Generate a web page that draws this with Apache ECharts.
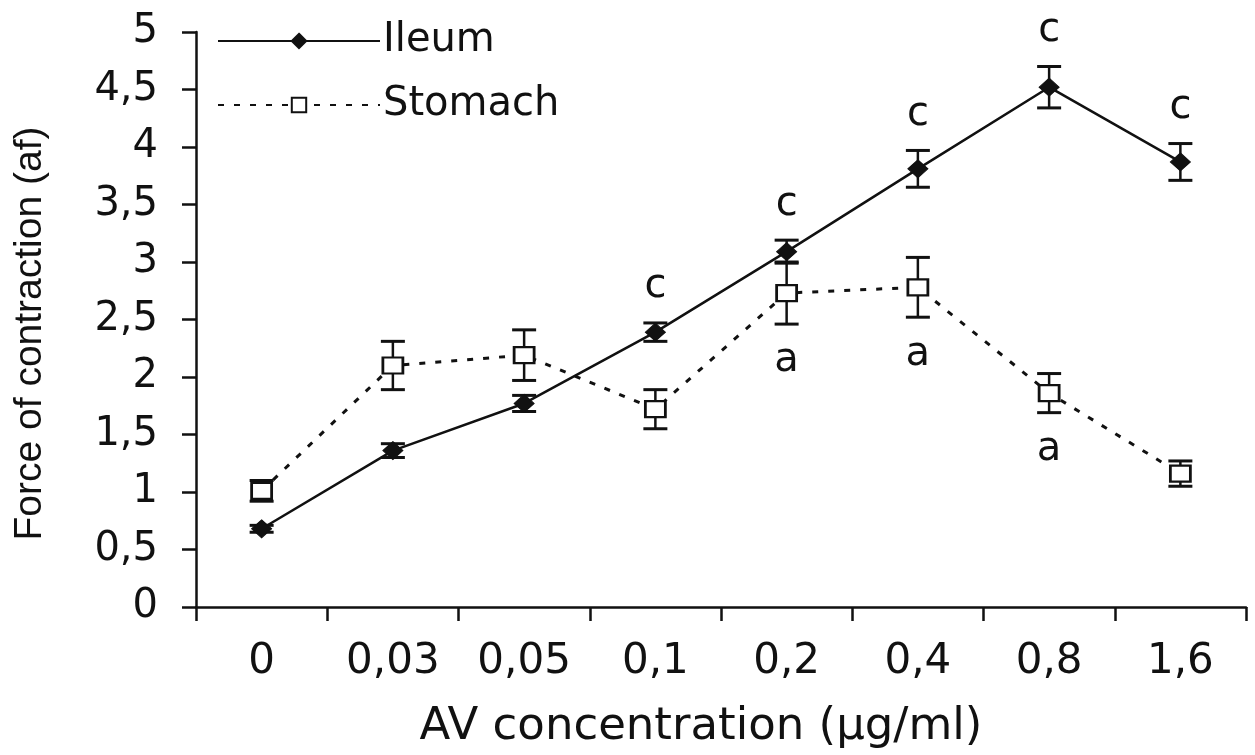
<!DOCTYPE html>
<html>
<head>
<meta charset="utf-8">
<script src="https://cdn.jsdelivr.net/npm/echarts@6/dist/echarts.min.js"></script>
<style>html,body{margin:0;padding:0;background:#fff}#c{width:1255px;height:755px}</style>
</head>
<body>
<div id="c"></div>
<script>
var categories = ['0', '0,03', '0,05', '0,1', '0,2', '0,4', '0,8', '1,6'];
var ileum = [0.68, 1.36, 1.77, 2.39, 3.09, 3.81, 4.52, 3.87];
var ileumErr = [0.03, 0.06, 0.07, 0.08, 0.10, 0.16, 0.18, 0.16];
var stomach = [1.01, 2.10, 2.19, 1.72, 2.73, 2.78, 1.86, 1.16];
var stomachErr = [0.09, 0.21, 0.22, 0.17, 0.27, 0.26, 0.17, 0.11];
var ileumSig = ['', '', '', 'c', 'c', 'c', 'c', 'c'];
var stomachSig = ['', '', '', '', 'a', 'a', 'a', ''];

var INK = '#111';
var FONT = 'DejaVu Sans';

function errData(vals, errs) {
  return vals.map(function (v, i) { return [i, v - errs[i], v + errs[i]]; });
}
function errRender(params, api) {
  var i = api.value(0);
  var lo = api.coord([i, api.value(1)]);
  var hi = api.coord([i, api.value(2)]);
  var hw = 12;
  return {
    type: 'group',
    children: [
      { type: 'line', shape: { x1: hi[0], y1: hi[1], x2: lo[0], y2: lo[1] }, style: { stroke: INK, lineWidth: 2.5 } },
      { type: 'line', shape: { x1: hi[0] - hw, y1: hi[1], x2: hi[0] + hw, y2: hi[1] }, style: { stroke: INK, lineWidth: 3 } },
      { type: 'line', shape: { x1: lo[0] - hw, y1: lo[1], x2: lo[0] + hw, y2: lo[1] }, style: { stroke: INK, lineWidth: 3 } }
    ]
  };
}
function sigData(vals, errs, sig, up) {
  var out = [];
  vals.forEach(function (v, i) {
    if (sig[i]) out.push({ value: [i, up ? v + errs[i] : v - errs[i]], name: sig[i] });
  });
  return out;
}

var chart = echarts.init(document.getElementById('c'), null, { renderer: 'canvas' });
chart.setOption({
  backgroundColor: '#fff',
  animation: false,
  grid: { left: 196, right: 9, top: 32, bottom: 148, containLabel: false },
  legend: {
    left: 212, top: 16, orient: 'vertical', itemWidth: 162, itemHeight: 18, itemGap: 24,
    textStyle: { fontFamily: FONT, fontSize: 40, color: INK, padding: [0, 0, 0, -2] },
    data: ['Ileum', 'Stomach']
  },
  xAxis: {
    type: 'category', data: categories, boundaryGap: true,
    name: 'AV concentration (\u00b5g/ml)', nameLocation: 'middle', nameGap: 98,
    nameTextStyle: { fontFamily: FONT, fontSize: 45, color: INK, padding: [0, 40, 0, 0] },
    axisLine: { lineStyle: { color: INK, width: 2.5 } },
    axisTick: { show: true, length: 14, lineStyle: { color: INK, width: 2.5 } },
    axisLabel: { fontFamily: FONT, fontSize: 42, color: INK, margin: 34 },
    splitLine: { show: false }
  },
  yAxis: {
    type: 'value', min: 0, max: 5, interval: 0.5,
    name: 'Force of contraction (af)', nameLocation: 'middle', nameGap: 146,
    nameTextStyle: { fontFamily: 'Liberation Sans', fontSize: 39, color: INK, padding: [0, 28, 0, 0] },
    axisLine: { show: true, lineStyle: { color: INK, width: 2.5 } },
    axisTick: { show: true, length: 14, lineStyle: { color: INK, width: 2.5 } },
    axisLabel: {
      fontFamily: FONT, fontSize: 40, color: INK, margin: 38,
      formatter: function (v) { return String(v).replace('.', ','); }
    },
    splitLine: { show: false }
  },
  series: [
    {
      name: 'Ileum', type: 'line', data: ileum, z: 3,
      symbol: 'diamond', symbolSize: [20, 18], showAllSymbol: true,
      itemStyle: { color: INK, borderColor: INK, borderWidth: 1 },
      lineStyle: { color: INK, width: 2.5, type: 'solid' }
    },
    {
      name: 'Stomach', type: 'line', data: stomach, z: 3,
      symbol: 'rect', symbolSize: [20, 16], showAllSymbol: true,
      itemStyle: { color: '#fff', borderColor: INK, borderWidth: 2.5 },
      lineStyle: { color: INK, width: 3, type: [6, 10] }
    },
    {
      type: 'custom', name: 'ileumErr', data: errData(ileum, ileumErr), z: 2,
      renderItem: errRender, encode: { x: 0, y: [1, 2] }, silent: true
    },
    {
      type: 'custom', name: 'stomachErr', data: errData(stomach, stomachErr), z: 2,
      renderItem: errRender, encode: { x: 0, y: [1, 2] }, silent: true
    },
    {
      type: 'scatter', data: sigData(ileum, ileumErr, ileumSig, true), symbolSize: 0, z: 4, silent: true,
      itemStyle: { opacity: 1 },
      label: { show: true, position: 'top', distance: 16, formatter: '{b}', fontFamily: FONT, fontSize: 40, color: INK, opacity: 1 }
    },
    {
      type: 'scatter', data: sigData(stomach, stomachErr, stomachSig, false), symbolSize: 0, z: 4, silent: true,
      itemStyle: { opacity: 1 },
      label: { show: true, position: 'bottom', distance: 17, formatter: '{b}', fontFamily: FONT, fontSize: 40, color: INK, opacity: 1 }
    }
  ]
});
</script>
</body>
</html>
